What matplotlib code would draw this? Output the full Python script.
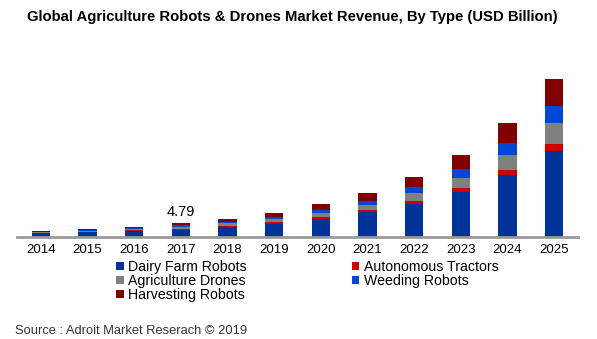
import numpy as np
import matplotlib
matplotlib.use('Agg')
import matplotlib.pyplot as plt
from matplotlib.patches import Patch

plt.rcParams['font.family'] = ['Liberation Sans', 'DejaVu Sans']

years = ['2014', '2015', '2016', '2017', '2018', '2019',
         '2020', '2021', '2022', '2023', '2024', '2025']

# USD Billion
dairy_farm = [1.3, 1.7, 2.1, 2.6, 3.5, 4.7, 6.3, 8.6, 11.5, 15.7, 21.6, 30.0]
autonomous_tractors = [0.15, 0.2, 0.25, 0.35, 0.45, 0.6, 0.6, 0.7, 1.05, 1.4, 2.0, 2.7]
agriculture_drones = [0.25, 0.35, 0.45, 0.6, 0.8, 1.05, 1.4, 1.75, 2.8, 3.7, 5.1, 7.2]
weeding = [0.2, 0.3, 0.35, 0.5, 0.55, 0.7, 1.05, 1.6, 2.0, 2.9, 4.3, 5.9]
harvesting = [0.2, 0.35, 0.45, 0.74, 0.9, 1.4, 2.1, 2.7, 3.6, 5.0, 6.9, 9.6]

series = [
    ('Dairy Farm Robots', dairy_farm, '#003399'),
    ('Autonomous Tractors', autonomous_tractors, '#cc0000'),
    ('Agriculture Drones', agriculture_drones, '#808080'),
    ('Weeding Robots', weeding, '#0047d4'),
    ('Harvesting Robots', harvesting, '#800000'),
]

fig = plt.figure(figsize=(5.97, 3.39), dpi=100)
ax = fig.add_axes([17 / 597, 102 / 339, 561 / 597, 197 / 339])

x = np.arange(len(years))
bottom = np.zeros(len(years))
for name, vals, color in series:
    ax.bar(x, vals, width=0.39, bottom=bottom, color=color,
           edgecolor='none', label=name)
    bottom += np.array(vals)

# value label for 2017
ax.text(3, bottom[3] + 1.6, '4.79', ha='center', va='bottom', fontsize=10.5)

ax.set_xlim(-0.51, 11.51)
ax.set_ylim(0, 69)
ax.set_xticks(x)
ax.set_xticklabels(years, fontsize=9.5)
ax.set_yticks([])
for s in ['top', 'right', 'left']:
    ax.spines[s].set_visible(False)
ax.spines['bottom'].set_color('#999999')
ax.spines['bottom'].set_linewidth(2)
ax.tick_params(axis='x', length=0, pad=5)

fig.text(0.49, 0.95, 'Global Agriculture Robots & Drones Market Revenue, By Type (USD Billion)',
         ha='center', va='center', fontsize=10.7, fontweight='bold')

# legend: column-first order
order = [0, 2, 4, 1, 3]
handles = [Patch(facecolor=series[i][2], label=series[i][0]) for i in order]
fig.legend(handles=handles, ncol=2, loc='upper left',
           bbox_to_anchor=(116 / 597, 1 - 260 / 339), frameon=False,
           fontsize=10.2, handlelength=0.55, handleheight=0.55, handletextpad=0.3,
           columnspacing=7.4, labelspacing=0.0, borderpad=0, borderaxespad=0)

fig.text(15 / 597, 1 - 331 / 339, 'Source : Adroit Market Reserach \u00a9 2019',
         ha='left', va='center', fontsize=9.3, color='#333333')

fig.savefig('out.png', dpi=100)
